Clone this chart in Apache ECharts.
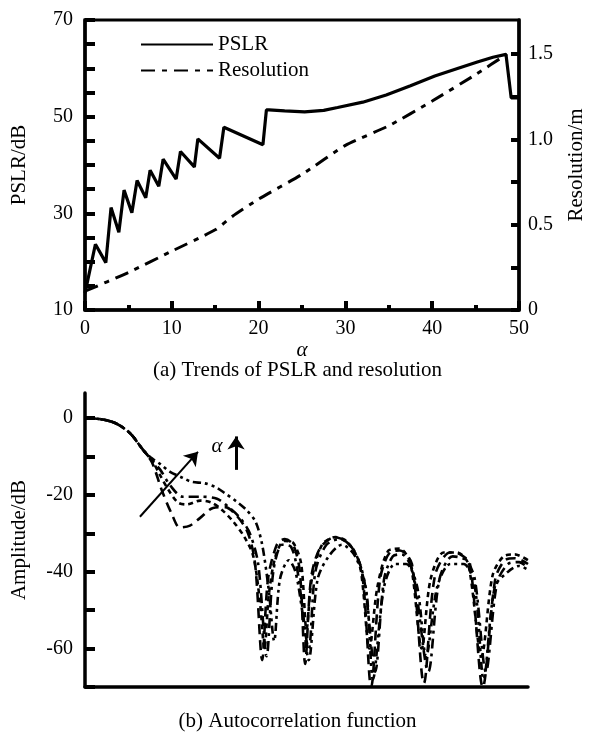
<!DOCTYPE html>
<html>
<head>
<meta charset="utf-8">
<script src="https://cdn.jsdelivr.net/npm/echarts@6/dist/echarts.min.js"></script>
<style>
html,body{margin:0;padding:0;background:#fff;}
#chart{width:595px;height:736px;}
</style>
</head>
<body>
<div id="chart"></div>
<script>
// ---------- (a) PSLR and resolution vs alpha ----------
var pslrAlpha = [0, 1.2, 2.4, 3.0, 3.9, 4.5, 5.4, 6.0, 7.0, 7.5, 8.5, 9.0, 10.5, 11.0, 12.6, 13.0, 15.5, 16.0, 20.5, 20.9, 21.2, 23, 25.3, 27.5, 29.1, 32, 34.7, 37.5, 40.3, 43, 45.2, 47, 48.5, 49.1, 50];
var pslrValue = [13.5, 23.6, 19.8, 31.2, 26.1, 34.8, 30.1, 36.8, 33.2, 38.9, 35.6, 41.2, 37.1, 42.8, 39.6, 45.4, 41.4, 47.8, 44.2, 51.4, 51.4, 51.2, 51.0, 51.3, 51.9, 53.0, 54.5, 56.4, 58.4, 60.0, 61.3, 62.3, 62.9, 53.9, 53.9];
var resAlpha = [0, 5, 10, 15, 17, 20, 25, 30, 35, 40, 45, 48.6];
var resValue = [0.11, 0.22, 0.345, 0.47, 0.55, 0.65, 0.795, 0.965, 1.08, 1.225, 1.38, 1.50];
var xTicksA = [0, 10, 20, 30, 40, 50];
var leftTicksA = [10, 30, 50, 70];
var rightTicksA = [0, 0.5, 1.0, 1.5];

// ---------- (b) autocorrelation curves (normalised lag 0..100) ----------
var lagA = [0, 3.4, 6.8, 10.2, 13.1, 15.1, 17.4, 19.6, 21.4, 23.7, 26, 28.9, 31.6, 34.3, 36.8, 38.4, 40, 41.3, 43.3, 45.1, 47, 48.5, 49.7, 51, 53, 56.4, 59.8, 62.5, 64.6, 66.6, 68.8, 71.1, 73.8, 76.5, 79, 82.4, 84.7, 86.9, 89.8, 92.6, 94.8, 97.1, 100];
var ampA = [0, -0.3, -1.3, -4, -8.3, -11.5, -19, -25, -28.5, -28, -26, -23.4, -23.2, -25.5, -30, -38, -63, -42, -33, -31.5, -33, -40, -64, -42, -34, -31, -33, -40, -70, -42, -35, -34.5, -38, -69, -41, -35, -35.5, -38, -70, -42, -37, -36.5, -38];
var lagB = [0, 3.4, 6.8, 10.2, 13.1, 15.1, 17, 19.2, 22.1, 26, 29.8, 32.7, 35, 37.2, 39.1, 41, 42.5, 44.5, 46.5, 48, 50.5, 52, 54.5, 57.5, 60.5, 63, 65.5, 67.5, 69.5, 71.5, 74, 77.5, 80, 83, 86, 88, 90.5, 93, 95.5, 98, 100];
var ampB = [0, -0.3, -1.3, -4, -8.3, -11, -13.5, -17.5, -20.5, -20.5, -21, -23.5, -26, -30, -38, -62, -40, -33, -33.5, -40, -60, -40, -33, -31.5, -34, -42, -66, -42, -36, -35.5, -40, -66, -42, -36, -37, -42, -66, -43, -38, -37.5, -39];
var lagC = [0, 3.4, 6.8, 10.2, 13.1, 15.1, 17, 19.2, 22.1, 24, 27, 29.5, 31.5, 34.5, 36.5, 38.5, 40, 41.5, 42.7, 44, 46, 47.5, 49, 50.5, 52.5, 55, 58, 61, 63.5, 65, 67.5, 70, 72.5, 75, 77, 79.5, 82.5, 85.5, 88, 90, 92.5, 95.5, 98, 100];
var ampC = [0, -0.3, -1.3, -4, -8.3, -10.5, -12, -14, -15.6, -16.6, -17, -18, -19.5, -22, -24, -27, -33, -45, -58, -42, -37, -40, -50, -63, -42, -36, -33, -36, -45, -68, -44, -38, -38, -44, -62, -44, -38, -38, -44, -68, -44, -40, -38.5, -39.5];
var lagD = [0, 3.4, 6.8, 10.2, 13.1, 15.1, 17, 19, 21, 23, 26, 28.5, 31, 33.5, 36, 38, 39.5, 40.5, 41.5, 43, 45, 47, 48.8, 50, 51.2, 53.5, 56.5, 59, 62, 64.2, 66, 68.5, 71, 73.5, 76, 78, 81, 84, 86.5, 89.5, 92, 94.5, 97, 100];
var ampD = [0, -0.3, -1.3, -4, -8.3, -11, -15, -19, -22, -22.5, -21.5, -22, -24, -27, -31, -36, -48, -60, -46, -36, -32, -32.5, -38, -55, -42, -33, -31, -32, -38, -60, -44, -34.5, -34, -38, -60, -42, -35, -35, -38, -62, -41, -36, -35.5, -37];
var ampTicksB = [0, -20, -40, -60];

function zip(xs, ys) { return xs.map(function (x, i) { return [x, ys[i]]; }); }

var FONT = 'Liberation Serif';
var black = '#000';

function acfSeries(name, xs, ys, dash) {
  return {
    name: name, type: 'line', xAxisIndex: 1, yAxisIndex: 2,
    data: zip(xs, ys), symbol: 'none', smooth: 0.3,
    lineStyle: { color: black, width: 2.6, type: dash },
    clip: true, animation: false, silent: true
  };
}

var option = {
  animation: false,
  backgroundColor: '#fff',
  textStyle: { fontFamily: FONT, color: black },
  title: [
    { text: '(a) Trends of PSLR and resolution', left: 'center', top: 355,
      textStyle: { fontFamily: FONT, fontSize: 21, fontWeight: 'normal', color: black } },
    { text: '(b) Autocorrelation function', left: 'center', top: 706,
      textStyle: { fontFamily: FONT, fontSize: 21, fontWeight: 'normal', color: black } }
  ],
  legend: {
    data: ['PSLR', 'Resolution'], orient: 'vertical', left: 140, top: 34, padding: 0,
    itemWidth: 72, itemHeight: 14, itemGap: 5,
    itemStyle: { opacity: 0 },
    textStyle: { fontFamily: FONT, fontSize: 21, color: black },
    selectedMode: false
  },
  grid: [
    { left: 85, top: 20, width: 444, height: 290, show: true, borderColor: black, borderWidth: 3 },
    { left: 85, top: 393, width: 443, height: 294 }
  ],
  xAxis: [
    { gridIndex: 0, type: 'value', min: 0, max: 50, interval: 10,
      name: 'α', nameLocation: 'middle', nameGap: 25,
      nameTextStyle: { fontFamily: FONT, fontSize: 21, fontStyle: 'italic', color: black },
      axisLine: { onZero: false, lineStyle: { color: black, width: 3.5 } },
      axisTick: { inside: true, length: 9, lineStyle: { color: black, width: 4 } },
      minorTick: { show: true, splitNumber: 2, length: 5, lineStyle: { color: black, width: 4 } },
      axisLabel: { margin: 9, fontFamily: FONT, fontSize: 20, color: black,
        formatter: function (v) { return xTicksA.indexOf(v) >= 0 ? String(v) : ''; } },
      splitLine: { show: false } },
    { gridIndex: 1, type: 'value', min: 0, max: 100,
      axisLine: { onZero: false, lineStyle: { color: black, width: 3.5 } },
      axisTick: { show: false }, axisLabel: { show: false }, splitLine: { show: false } }
  ],
  yAxis: [
    { gridIndex: 0, type: 'value', min: 10, max: 70, interval: 5,
      name: 'PSLR/dB', nameLocation: 'middle', nameGap: 55, nameRotate: 90,
      nameTextStyle: { fontFamily: FONT, fontSize: 21, color: black },
      axisLine: { onZero: false, lineStyle: { color: black, width: 3.5 } },
      axisTick: { inside: true, length: 10, lineStyle: { color: black, width: 4 } },
      axisLabel: { margin: 12, fontFamily: FONT, fontSize: 20, color: black,
        formatter: function (v) { return leftTicksA.indexOf(v) >= 0 ? String(v) : ''; } },
      splitLine: { show: false } },
    { gridIndex: 0, type: 'value', position: 'right', min: 0, max: 1.7, interval: 0.25,
      name: 'Resolution/m', nameLocation: 'middle', nameGap: 47, nameRotate: 90,
      nameTextStyle: { fontFamily: FONT, fontSize: 21, color: black },
      axisLine: { show: true, onZero: false, lineStyle: { color: black, width: 3.5 } },
      axisTick: { show: true, inside: true, length: 8, lineStyle: { color: black, width: 4 } },
      axisLabel: { margin: 9, fontFamily: FONT, fontSize: 20, color: black, showMaxLabel: false,
        formatter: function (v) {
          var r = Math.round(v * 100) / 100;
          if (rightTicksA.indexOf(r) < 0) return '';
          return r === 0 ? '0' : r.toFixed(1);
        } },
      splitLine: { show: false } },
    { gridIndex: 1, type: 'value', min: -70, max: 6.5, interval: 10,
      name: 'Amplitude/dB', nameLocation: 'middle', nameGap: 55, nameRotate: 90,
      nameTextStyle: { fontFamily: FONT, fontSize: 21, color: black },
      axisLine: { onZero: false, lineStyle: { color: black, width: 3.5 } },
      axisTick: { inside: true, length: 10, lineStyle: { color: black, width: 4 } },
      axisLabel: { margin: 12, fontFamily: FONT, fontSize: 20, color: black, showMaxLabel: false,
        formatter: function (v) { return ampTicksB.indexOf(v) >= 0 ? String(v) : ''; } },
      splitLine: { show: false } }
  ],
  series: [
    { name: 'PSLR', type: 'line', xAxisIndex: 0, yAxisIndex: 0,
      data: zip(pslrAlpha, pslrValue), symbol: 'none', smooth: false,
      lineStyle: { color: black, width: 3.2 }, itemStyle: { color: black } },
    { name: 'Resolution', type: 'line', xAxisIndex: 0, yAxisIndex: 1,
      data: zip(resAlpha, resValue), symbol: 'none', smooth: 0.2,
      lineStyle: { color: black, width: 3, type: [14, 7, 5, 7] }, itemStyle: { color: black } },
    (function () {
      var s = acfSeries('acfA', lagA, ampA, [10, 6]);
      s.markLine = {
        silent: true, symbol: ['none', 'arrow'], symbolSize: 13,
        label: { show: false },
        lineStyle: { color: black, width: 2, type: 'solid' },
        data: [
          [{ coord: [12.4, -25.7] }, { coord: [25.5, -8.8] }],
          [{ coord: [34.1, -13.5], lineStyle: { width: 3 } }, { coord: [34.1, -4.8] }]
        ]
      };
      s.markPoint = {
        silent: true, symbol: 'circle', symbolSize: 0,
        label: { show: true, formatter: 'α', fontFamily: FONT, fontSize: 21, fontStyle: 'italic', color: black },
        data: [{ coord: [29.8, -7.5] }]
      };
      return s;
    })(),
    acfSeries('acfB', lagB, ampB, [10, 5, 3, 5]),
    acfSeries('acfC', lagC, ampC, [8, 4, 3, 4, 3, 4]),
    acfSeries('acfD', lagD, ampD, [5, 4])
  ]
};

var chart = echarts.init(document.getElementById('chart'), null, { renderer: 'canvas' });
chart.setOption(option);
</script>
</body>
</html>
